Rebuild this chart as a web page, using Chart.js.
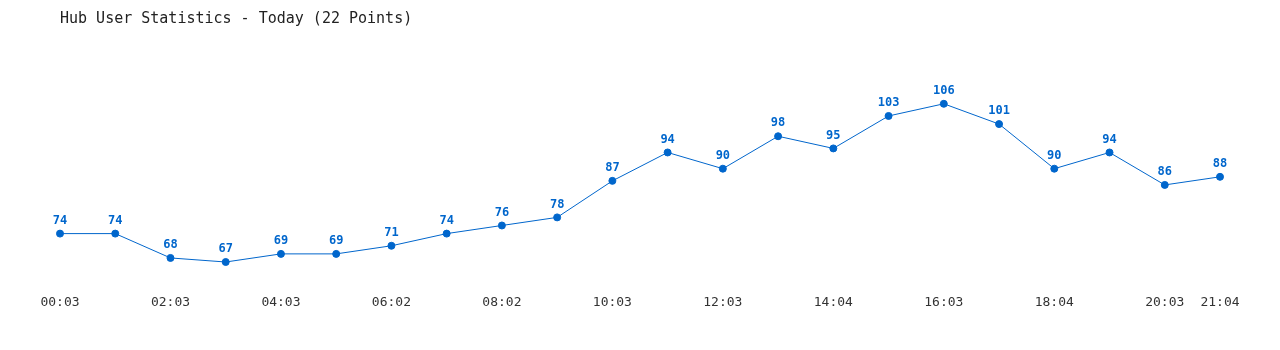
<!DOCTYPE html>
<html>
<head>
<meta charset="utf-8">
<title>Hub User Statistics</title>
<script src="https://cdn.jsdelivr.net/npm/chart.js@4.4.1/dist/chart.umd.min.js"></script>
<style>
    html, body { margin: 0; padding: 0; background: #fff; }
    #wrap { width: 1280px; height: 350px; }
</style>
</head>
<body>
<div id="wrap"><canvas id="userChart"></canvas></div>
<script>
// tick labels (only every other point is labelled in the source)
const timeLabels = [
    "00:03", "", "02:03", "", "04:03", "", "06:02", "", "08:02", "", "10:03",
    "", "12:03", "", "14:04", "", "16:03", "", "18:04", "", "20:03", "21:04"
];
const userCounts = [
    74, 74, 68, 67, 69, 69, 71, 74, 76, 78, 87,
    94, 90, 98, 95, 103, 106, 101, 90, 94, 86, 88
];
const chartTitle = "Hub User Statistics - Today (22 Points)";

const lineColor = "#0066cc";
const monoFont = "'DejaVu Sans Mono', 'Liberation Mono', monospace";

// draws the value above each point
const valueLabels = {
    id: "valueLabels",
    afterDatasetsDraw(chart) {
        const ctx = chart.ctx;
        const meta = chart.getDatasetMeta(0);
        ctx.save();
        ctx.font = "bold 12px " + monoFont;
        ctx.fillStyle = lineColor;
        ctx.textAlign = "center";
        ctx.textBaseline = "middle";
        meta.data.forEach((pt, i) => {
            ctx.fillText(String(userCounts[i]), pt.x, pt.y - 13);
        });
        ctx.restore();
    }
};

new Chart(document.getElementById("userChart"), {
    type: "line",
    data: {
        labels: timeLabels,
        datasets: [{
            label: "Users",
            data: userCounts,
            borderColor: lineColor,
            backgroundColor: lineColor,
            borderWidth: 1,
            pointRadius: 3.5,
            pointHoverRadius: 4,
            tension: 0,
            fill: false
        }]
    },
    options: {
        responsive: true,
        maintainAspectRatio: false,
        animation: false,
        layout: {
            padding: { left: 60, right: 60, top: 0, bottom: 36 }
        },
        plugins: {
            legend: { display: false },
            tooltip: { enabled: false },
            title: {
                display: true,
                text: chartTitle,
                align: "start",
                color: "#222",
                font: { family: monoFont, size: 15, weight: "normal" },
                padding: { top: 10, bottom: 19 }
            }
        },
        scales: {
            x: {
                offset: false,
                grid: { display: false, drawTicks: false, tickLength: 0 },
                border: { display: false },
                ticks: {
                    autoSkip: false,
                    maxRotation: 0,
                    color: "#333",
                    padding: 4,
                    font: { family: monoFont, size: 13 }
                }
            },
            y: {
                display: false,
                min: 60,
                max: 120
            }
        }
    },
    plugins: [valueLabels]
});
</script>
</body>
</html>
